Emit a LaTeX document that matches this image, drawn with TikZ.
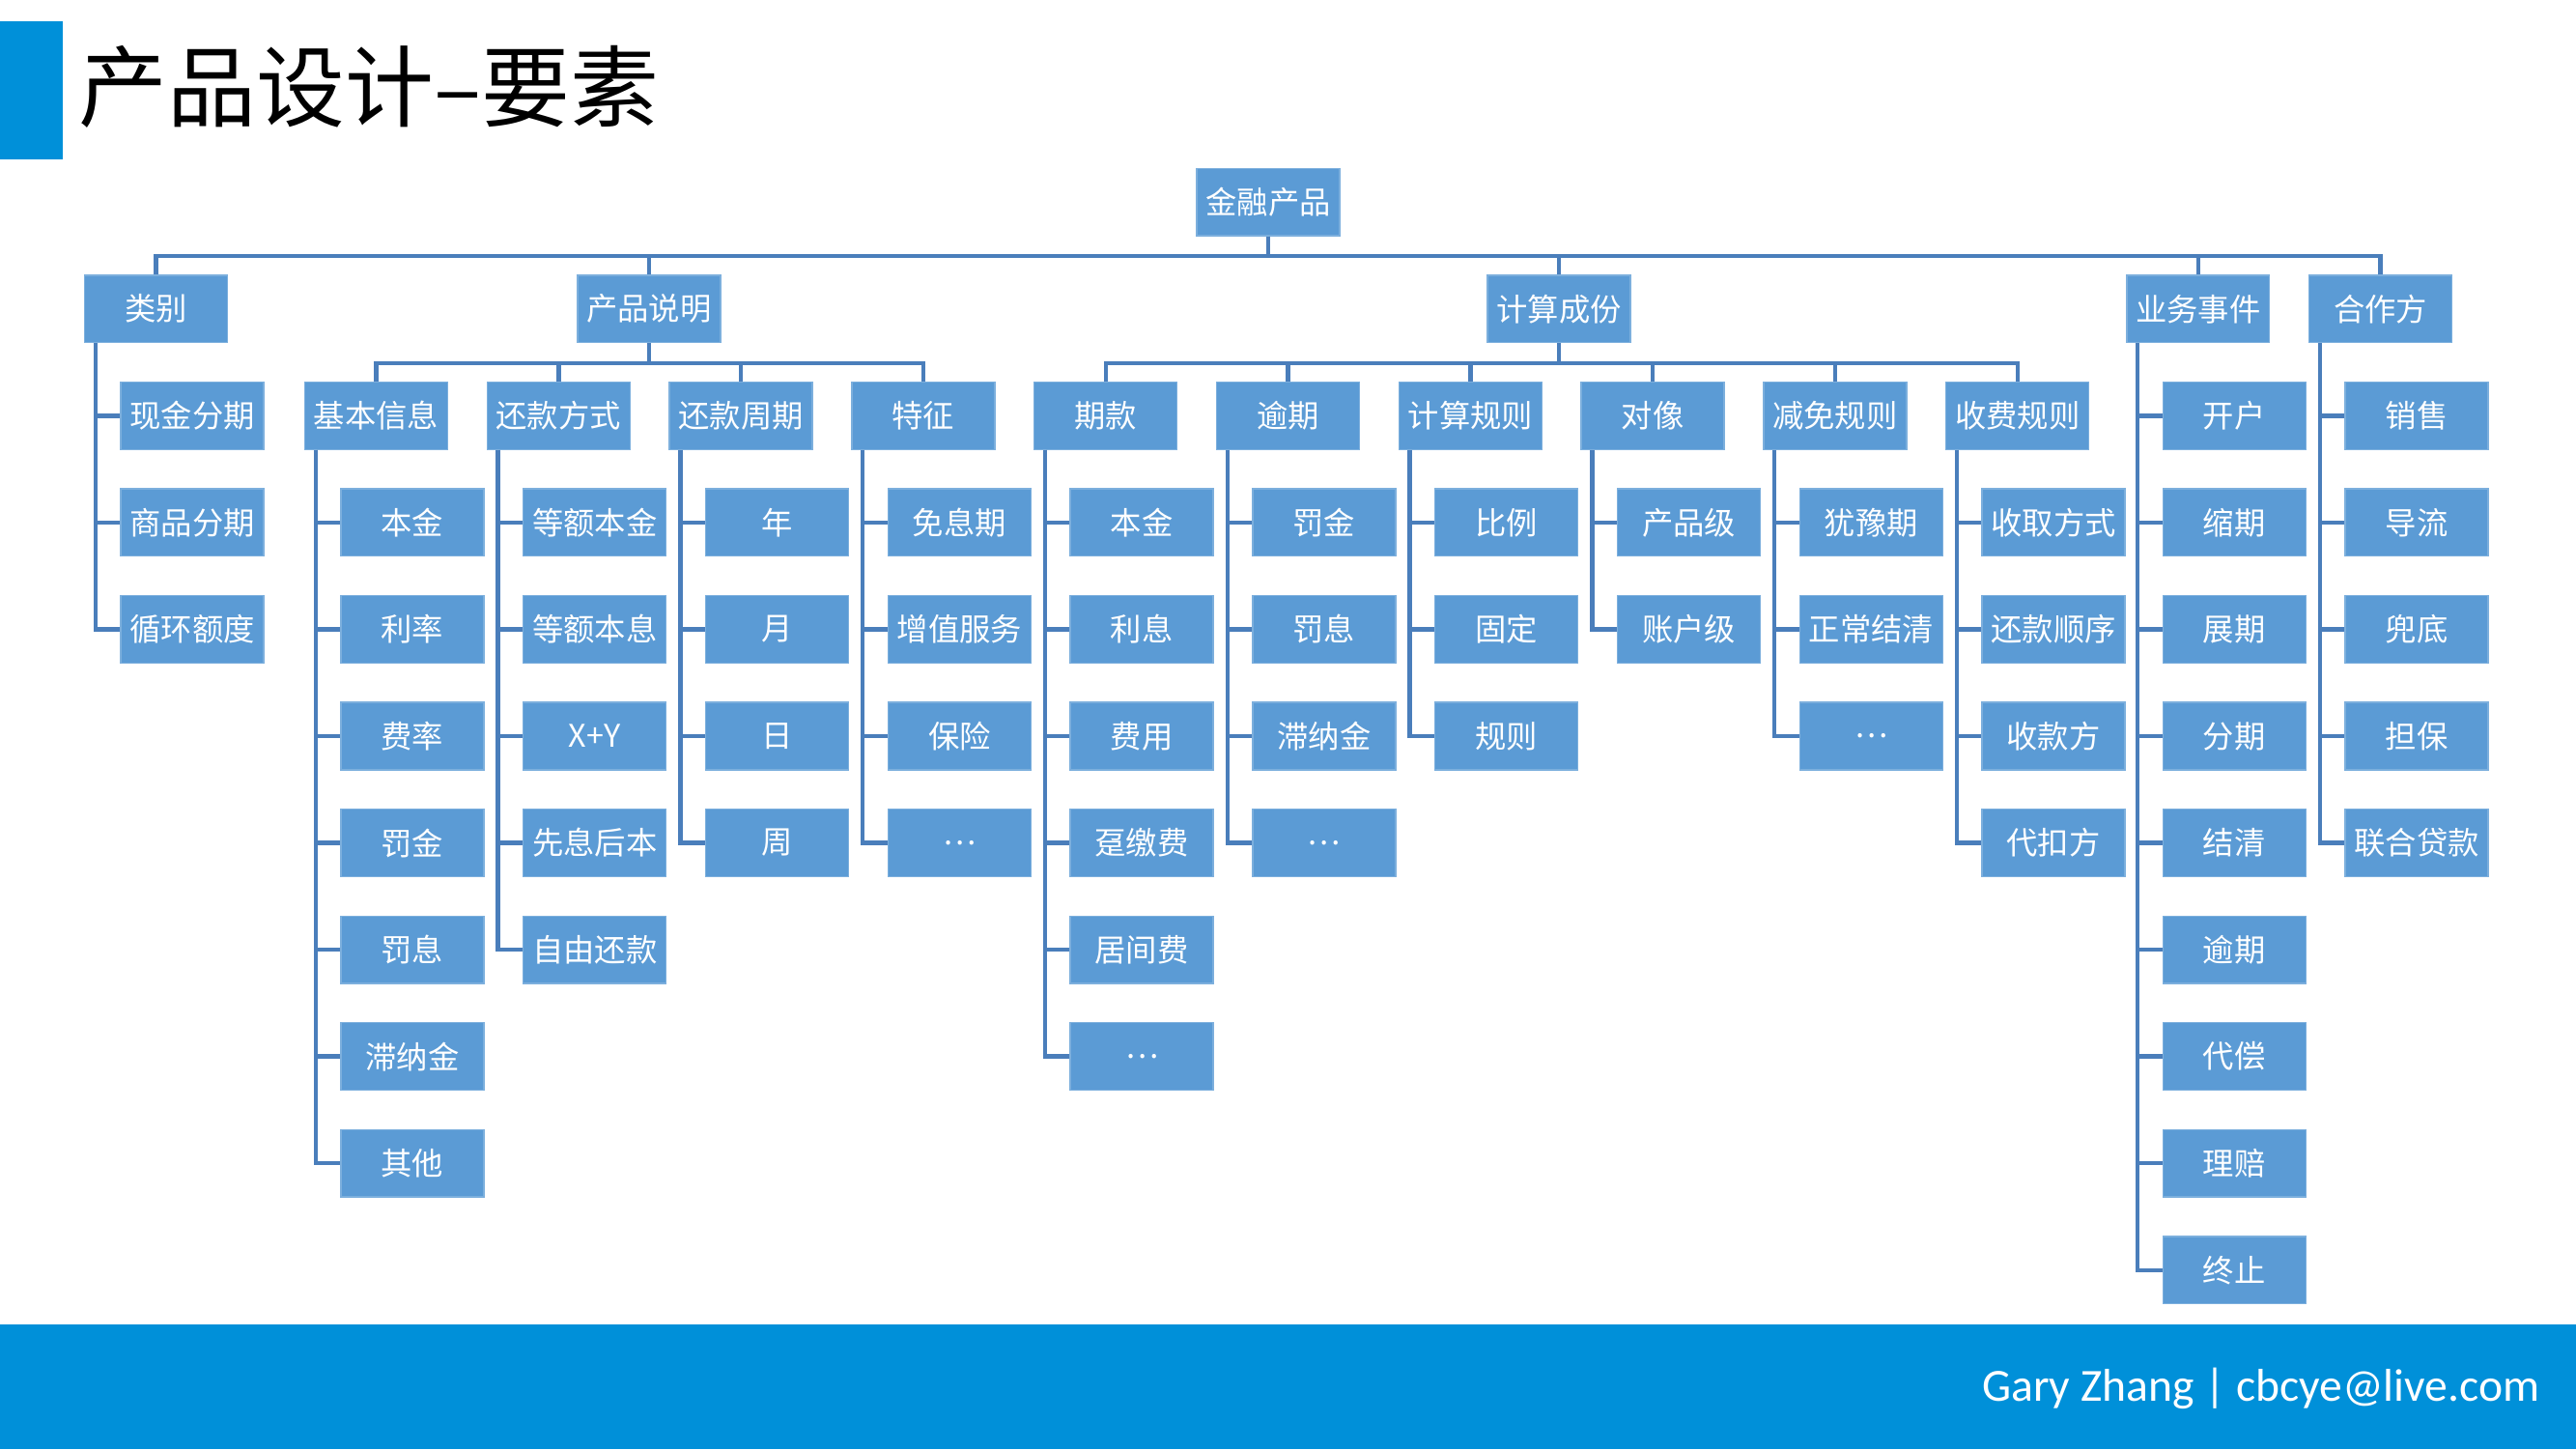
\documentclass[tikz,border=0pt]{standalone}
\usepackage{fontspec}
\setmainfont{Carlito}
\newfontfamily\cjk{Noto Sans CJK SC}
\definecolor{boxblue}{HTML}{5B9BD5}
\definecolor{linecol}{HTML}{4A7EBB}
\definecolor{barblue}{HTML}{0090D9}
\begin{document}
\begin{tikzpicture}[x=1pt,y=-1pt,
  box/.style={fill=boxblue,draw=boxblue!80!white,line width=0.8pt,minimum width=87pt,minimum height=41pt,inner sep=0pt,text=white,font=\cjk\fontsize{19}{19}\selectfont},
  conn/.style={draw=linecol,line width=2.6pt}]
\useasboundingbox (0,0) rectangle (1568,882);
\fill[barblue] (0,13) rectangle (38,97);
\node[anchor=west,inner sep=0pt,font=\cjk\fontsize{54}{54}\selectfont] (title) at (48,53) {产品设计–要素};
\fill[barblue] (0,806) rectangle (1568,882);
\node[anchor=east,inner sep=0pt,text=white,font=\fontsize{28}{28}\selectfont] (foot) at (1546,845) {Gary Zhang | cbcye@live.com};
\node[box] (root) at (772,123) {金融产品};
\foreach \n/\x/\t in {l1/95/类别, l2/395/产品说明, l3/949/计算成份, l4/1338/业务事件, l5/1449/合作方}{
  \node[box] (\n) at (\x,188) {\t};
  \draw[conn] (root.south) -- ++(0,12) -| (\n.north);
}
\foreach \n/\x/\t in {b1/229/基本信息, b2/340/还款方式, b3/451/还款周期, b4/562/特征}{
  \node[box] (\n) at (\x,253) {\t};
  \draw[conn] (l2.south) -- ++(0,12) -| (\n.north);
}
\foreach \n/\x/\t in {c1/673/期款, c2/784/逾期, c3/895/计算规则, c4/1006/对像, c5/1117/减免规则, c6/1228/收费规则}{
  \node[box] (\n) at (\x,253) {\t};
  \draw[conn] (l3.south) -- ++(0,12) -| (\n.north);
}
\foreach \n/\x/\y/\l in {
  l1/95/188/{现金分期,商品分期,循环额度},
  l4/1338/188/{开户,缩期,展期,分期,结清,逾期,代偿,理赔,终止},
  l5/1449/188/{销售,导流,兜底,担保,联合贷款},
  b1/229/253/{本金,利率,费率,罚金,罚息,滞纳金,其他},
  b2/340/253/{等额本金,等额本息,X+Y,先息后本,自由还款},
  b3/451/253/{年,月,日,周},
  b4/562/253/{免息期,增值服务,保险,…},
  c1/673/253/{本金,利息,费用,趸缴费,居间费,…},
  c2/784/253/{罚金,罚息,滞纳金,…},
  c3/895/253/{比例,固定,规则},
  c4/1006/253/{产品级,账户级},
  c5/1117/253/{犹豫期,正常结清,…},
  c6/1228/253/{收取方式,还款顺序,收款方,代扣方}}{
  \foreach \t [count=\j] in \l {
    \node[box] (\n-\j) at (\x+22,\y+65*\j) {\t};
    \draw[conn] ([xshift=7pt]\n.south west) |- (\n-\j.west);
  }
}
\end{tikzpicture}
\end{document}
